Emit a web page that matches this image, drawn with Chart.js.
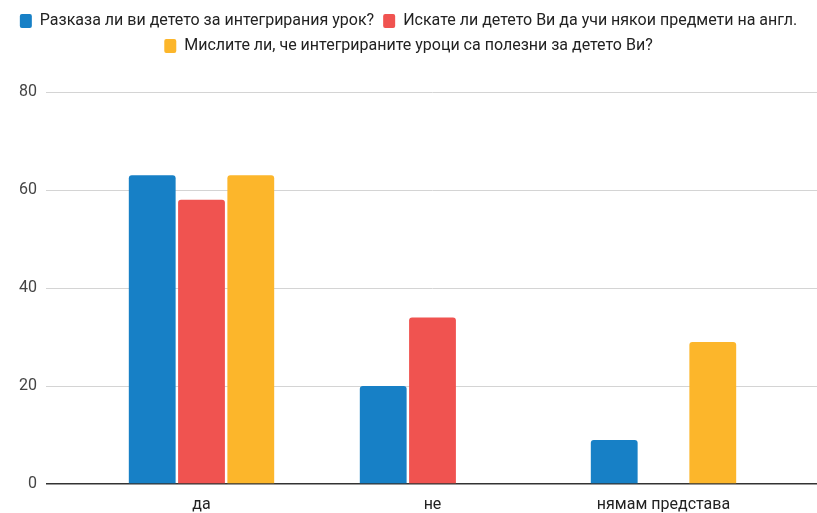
<!DOCTYPE html>
<html>
<head>
<meta charset="utf-8">
<script src="https://cdn.jsdelivr.net/npm/chart.js@4.4.1/dist/chart.umd.min.js"></script>
<style>
  html, body { margin: 0; padding: 0; background: #fff; }
  #wrap { width: 817px; height: 513px; }
</style>
</head>
<body>
<div id="wrap"><canvas id="chart"></canvas></div>
<script>
var categories = ["да", "не", "нямам представа"];
var seriesNames = [
    "Разказа ли ви детето за интегрирания урок?",
    "Искате ли детето Ви да учи някои предмети на англ.",
    "Мислите ли, че интегрираните уроци са полезни за детето Ви?"
];
var toldValues = [63, 20, 9];
var wantValues = [58, 34, 0];
var usefulValues = [63, 0, 29];
var yTicks = [0, 20, 40, 60, 80];

var colors = ["#1780c6", "#f05350", "#fcb62b"];

// legend takes the whole band above the plot
var legendHeight = {
    id: "legendHeight",
    beforeInit: function(chart){
        var fit = chart.legend.fit;
        chart.legend.fit = function(){
            fit.bind(chart.legend)();
            this.height = 88;
        };
    }
};

function makeSet(i, values){
    return {
        label: seriesNames[i],
        data: values,
        backgroundColor: colors[i],
        borderRadius: 3,
        borderSkipped: "bottom",
        categoryPercentage: 0.64,
        barPercentage: 0.95
    };
}

new Chart(document.getElementById("chart"), {
    type: "bar",
    data: {
        labels: categories,
        datasets: [
            makeSet(0, toldValues),
            makeSet(1, wantValues),
            makeSet(2, usefulValues)
        ]
    },
    plugins: [legendHeight],
    options: {
        responsive: true,
        maintainAspectRatio: false,
        animation: false,
        layout: { padding: { top: 4 } },
        plugins: {
            tooltip: { enabled: false },
            legend: {
                position: "top",
                labels: {
                    font: { family: "Roboto", size: 16 },
                    color: "#222",
                    boxWidth: 12,
                    boxHeight: 14,
                    padding: 9,
                    useBorderRadius: true,
                    borderRadius: 2
                }
            }
        },
        scales: {
            x: {
                grid: { display: false },
                border: { display: false },
                ticks: {
                    font: { family: "Roboto", size: 16 },
                    color: "#222",
                    padding: 3
                },
                afterFit: function(s){ s.height = 29; }
            },
            y: {
                min: 0,
                max: 80,
                afterBuildTicks: function(s){
                    s.ticks = yTicks.map(function(v){ return { value: v }; });
                },
                border: { display: false },
                grid: {
                    color: function(ctx){ return ctx.tick && ctx.tick.value === 0 ? "#333" : "#d4d4d4"; },
                    lineWidth: function(ctx){ return ctx.tick && ctx.tick.value === 0 ? 1.6 : 1; },
                    tickLength: 40
                },
                ticks: {
                    font: { family: "Roboto", size: 16 },
                    color: "#444",
                    padding: 9
                },
                afterFit: function(s){ s.width = 86; }
            },
            y2: {
                position: "right",
                min: 0,
                max: 80,
                afterBuildTicks: function(s){
                    s.ticks = yTicks.map(function(v){ return { value: v }; });
                },
                border: { display: false },
                grid: {
                    drawOnChartArea: false,
                    color: function(ctx){ return ctx.tick && ctx.tick.value === 0 ? "#333" : "#d4d4d4"; },
                    lineWidth: function(ctx){ return ctx.tick && ctx.tick.value === 0 ? 1.6 : 1; },
                    tickLength: 38
                },
                ticks: { display: false },
                afterFit: function(s){ s.width = 38; }
            }
        }
    }
});
</script>
</body>
</html>
